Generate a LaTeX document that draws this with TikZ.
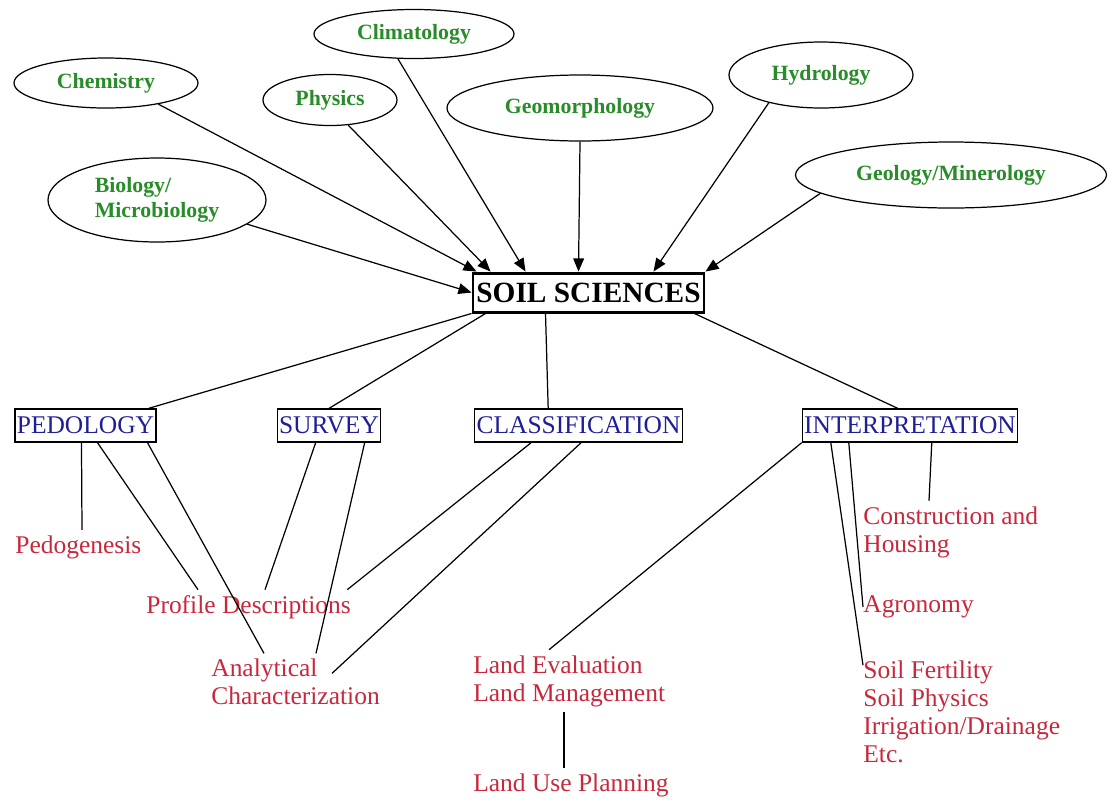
\documentclass[tikz,border=0pt]{standalone}
\usepackage{fontspec}
\setmainfont{Liberation Serif}
\usetikzlibrary{arrows,shapes.geometric}
\definecolor{sciGreen}{RGB}{40,140,40}
\definecolor{brBlue}{RGB}{30,30,150}
\definecolor{tpRed}{RGB}{200,40,60}

\begin{document}
\begin{tikzpicture}
		\tikzstyle{es} = [-triangle 45, line width=0.7pt]
		\tikzstyle{ln} = [line width=0.7pt]
		\tikzstyle{sci} = [draw, ellipse, line width=0.7pt, inner sep=0pt, text=sciGreen, align=left, font=\fontsize{12.4}{14.5}\selectfont\bfseries]
		\tikzstyle{br} = [draw, rectangle, line width=0.7pt, text=brBlue, inner xsep=1pt, minimum height=0.66cm, font=\fontsize{14.5}{16.5}\selectfont]
		\tikzstyle{tp} = [anchor=west, inner xsep=0pt, inner ysep=3pt, text=tpRed, align=left, font=\fontsize{14.5}{16}\selectfont]
		\useasboundingbox (0,0) rectangle (22.16,-15.98);
		\node [sci, minimum width=3.68cm, minimum height=1cm] (chem) at (2.12,-1.66) {Chemistry};
		\node [sci, minimum width=2.68cm, minimum height=1.02cm] (phys) at (6.6,-2) {Physics};
		\node [sci, minimum width=4cm, minimum height=0.98cm] (clim) at (8.28,-0.68) {Climatology};
		\node [sci, minimum width=4.36cm, minimum height=1.68cm] (bio) at (3.14,-4) {Biology/\\Microbiology};
		\node [sci, minimum width=5.32cm, minimum height=1.32cm] (geom) at (11.6,-2.16) {Geomorphology};
		\node [sci, minimum width=3.68cm, minimum height=1.32cm] (hydro) at (16.42,-1.5) {Hydrology};
		\node [sci, minimum width=6.22cm, minimum height=1.32cm] (geol) at (19.02,-3.5) {Geology/Minerology};
		\node [draw, line width=1.7pt, inner xsep=1pt, minimum width=4.62cm, minimum height=0.78cm, font=\fontsize{16.7}{18}\selectfont\bfseries] (soil) at (11.77,-5.85) {SOIL SCIENCES};
		\draw [es] (bio.345) -- (soil.west);
		\draw [es] (chem.338) -- ([xshift=0.1cm]soil.north west);
		\draw [es] (phys.306) -- ([xshift=0.38cm]soil.north west);
		\draw [es] (clim.237) -- ([xshift=1.08cm]soil.north west);
		\draw [es] (geom.south) -- ([xshift=2.14cm]soil.north west);
		\draw [es] (hydro.208) -- ([xshift=-1.04cm]soil.north east);
		\draw [es] (geol.188) -- (soil.north east);
		\node [br] (ped) at (1.71,-8.51) {PEDOLOGY};
		\node [br] (surv) at (6.58,-8.51) {SURVEY};
		\node [br] (clas) at (11.57,-8.51) {CLASSIFICATION};
		\node [br] (interp) at (18.2,-8.51) {INTERPRETATION};
		\draw [ln] (soil.south west) -- ([xshift=-0.16cm]ped.north east);
		\draw [ln] ([xshift=0.28cm]soil.south west) -- (surv.north);
		\draw [ln] ([xshift=1.48cm]soil.south west) -- ([xshift=1.48cm]clas.north west);
		\draw [ln] ([xshift=-0.22cm]soil.south east) -- ([xshift=1.92cm]interp.north west);
		\node [tp] (pedo) at (0.3,-10.94) {Pedogenesis};
		\node [tp] (prof) at (2.92,-12.14) {Profile Descriptions};
		\node [tp] (anal) at (4.22,-13.64) {Analytical\\Characterization};
		\node [tp] (land) at (9.46,-13.62) {Land Evaluation\\Land Management};
		\node [tp] (plan) at (9.46,-15.7) {Land Use Planning};
		\node [tp] (cons) at (17.26,-10.64) {Construction and\\Housing};
		\node [tp] (agro) at (17.26,-12.14) {Agronomy};
		\node [tp] (fert) at (17.26,-14.24) {Soil Fertility\\Soil Physics\\Irrigation/Drainage\\Etc.};
		\draw [ln] ([xshift=1.34cm]ped.south west) -- ([xshift=1.34cm]pedo.north west);
		\draw [ln] ([xshift=1.66cm]ped.south west) -- ([xshift=1.04cm]prof.north west);
		\draw [ln] ([xshift=2.66cm]ped.south west) -- ([xshift=1.06cm]anal.north west);
		\draw [ln] ([xshift=0.78cm]surv.south west) -- ([xshift=2.38cm]prof.north west);
		\draw [ln] ([xshift=1.76cm]surv.south west) -- ([xshift=2.1cm]anal.north west);
		\draw [ln] ([xshift=1.14cm]clas.south west) -- ([xshift=-0.08cm]prof.north east);
		\draw [ln] ([xshift=2.14cm]clas.south west) -- ([xshift=2.42cm,yshift=-0.4cm]anal.north west);
		\draw [ln] (interp.south west) -- ([xshift=1.52cm]land.north west);
		\draw [ln] ([xshift=2.6cm]interp.south west) -- ([xshift=1.32cm]cons.north west);
		\draw [ln] ([xshift=0.94cm]interp.south west) -- (agro.west);
		\draw [ln] ([xshift=0.58cm]interp.south west) -- ([yshift=-0.2cm]fert.north west);
		\draw [ln] ([xshift=1.82cm]land.south west) -- ([xshift=1.82cm]plan.north west);
		\end{tikzpicture}
\end{document}
